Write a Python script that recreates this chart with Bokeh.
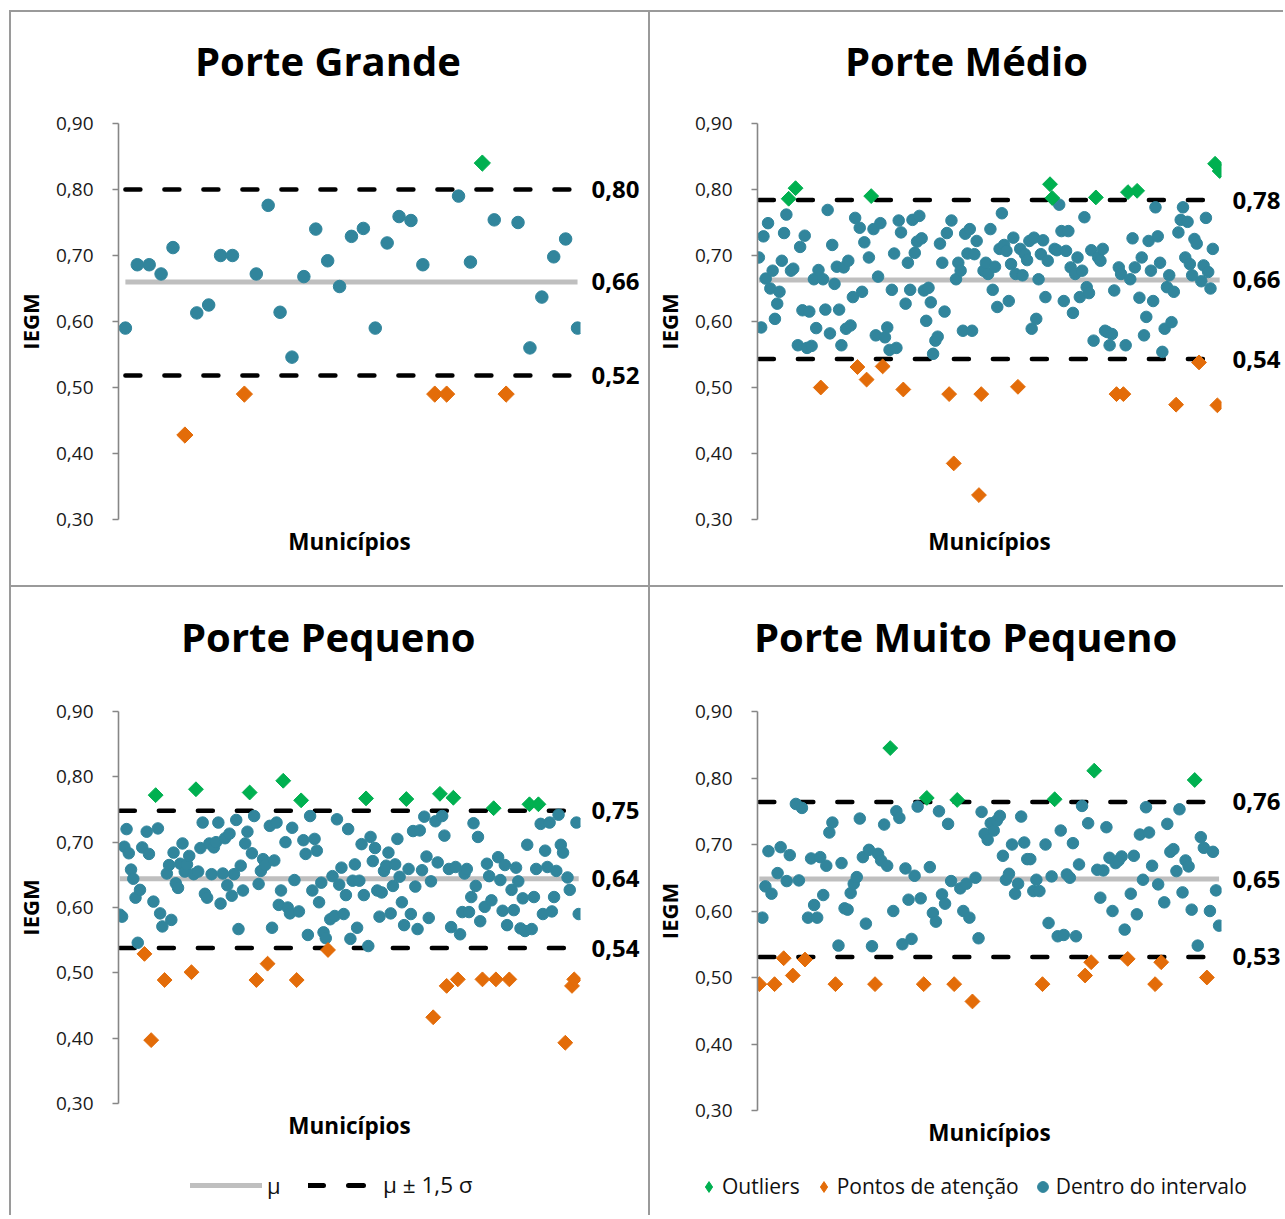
import math
from bokeh.plotting import figure
from bokeh.models import (Range1d, FixedTicker, LinearAxis, CustomJSTickFormatter,
                          Legend, LegendItem, ColumnDataSource, Div)
from bokeh.layouts import column, row
from bokeh.embed import file_html
from bokeh.resources import INLINE

FONT = "Open Sans"
TEAL = "#31859C"
ORANGE = "#E36C09"
GREEN = "#00B050"
MEAN_C = "#BFBFBF"
AXIS_C = "#868686"
BORDER_C = "#9a9a9a"
NAN = float("nan")

# ---------------- data ----------------
y_ticks = [0.3, 0.4, 0.5, 0.6, 0.7, 0.8, 0.9]

titles = ["Porte Grande", "Porte Médio", "Porte Pequeno", "Porte Muito Pequeno"]

grande_vals = [0.59, 0.686, 0.686, 0.672, 0.712, 0.428, 0.613, 0.625, 0.70, 0.70,
               0.49, 0.672, 0.776, 0.614, 0.546, 0.668, 0.74, 0.692, 0.653, 0.729,
               0.741, 0.59, 0.719, 0.759, 0.753, 0.686, 0.49, 0.49, 0.79, 0.69,
               0.84, 0.754, 0.49, 0.75, 0.56, 0.637, 0.698, 0.725, 0.59]
grande_stats = [0.518, 0.66, 0.80]   # lower, mean, upper

medio_vals = [0.697, 0.591, 0.729, 0.665, 0.749, 0.65, 0.677, 0.604, 0.627, 0.645,
              0.692, 0.734, 0.762, 0.786, 0.677, 0.68, 0.802, 0.564, 0.713, 0.617,
              0.73, 0.56, 0.615, 0.563, 0.664, 0.59, 0.678, 0.50, 0.664, 0.618,
              0.769, 0.582, 0.716, 0.657, 0.683, 0.618, 0.564, 0.682, 0.589, 0.692,
              0.594, 0.637, 0.757, 0.531, 0.742, 0.645, 0.72, 0.512, 0.697, 0.79,
              0.74, 0.579, 0.668, 0.749, 0.532, 0.576, 0.591, 0.557, 0.648, 0.703,
              0.56, 0.753, 0.735, 0.497, 0.627, 0.689, 0.648, 0.754, 0.704, 0.721,
              0.76, 0.726, 0.647, 0.601, 0.651, 0.629, 0.551, 0.571, 0.577, 0.718,
              0.689, 0.615, 0.734, 0.49, 0.753, 0.385, 0.664, 0.689, 0.677, 0.586,
              0.733, 0.703, 0.74, 0.586, 0.702, 0.722, 0.337, 0.49, 0.677, 0.689,
              0.672, 0.74, 0.648, 0.683, 0.622, 0.71, 0.764, 0.716, 0.707, 0.631,
              0.687, 0.727, 0.672, 0.501, 0.71, 0.67, 0.702, 0.693, 0.722, 0.589,
              0.727, 0.604, 0.664, 0.702, 0.723, 0.637, 0.692, 0.808, 0.787, 0.71,
              0.708, 0.777, 0.737, 0.631, 0.707, 0.737, 0.682, 0.613, 0.672, 0.697,
              0.637, 0.677, 0.758, 0.652, 0.643, 0.708, 0.571, 0.788, 0.697, 0.692,
              0.71, 0.586, 0.584, 0.564, 0.581, 0.647, 0.49, 0.682, 0.672, 0.49,
              0.564, 0.796, 0.664, 0.726, 0.682, 0.798, 0.636, 0.697, 0.579, 0.607,
              0.722, 0.677, 0.631, 0.773, 0.729, 0.689, 0.554, 0.589, 0.652, 0.67,
              0.599, 0.645, 0.474, 0.735, 0.754, 0.773, 0.697, 0.751, 0.687, 0.67,
              0.725, 0.718, 0.538, 0.661, 0.685, 0.757, 0.675, 0.65, 0.71, 0.839,
              0.473, 0.828]
medio_stats = [0.543, 0.663, 0.784]

pequeno_vals = [0.589, 0.586, 0.693, 0.72, 0.683, 0.658, 0.644, 0.615, 0.546, 0.627,
                0.692, 0.529, 0.716, 0.682, 0.397, 0.609, 0.772, 0.721, 0.591, 0.571,
                0.489, 0.652, 0.665, 0.581, 0.684, 0.637, 0.63, 0.667, 0.698, 0.655,
                0.666, 0.679, 0.501, 0.651, 0.781, 0.655, 0.691, 0.73, 0.621, 0.615,
                0.698, 0.651, 0.692, 0.70, 0.73, 0.606, 0.652, 0.706, 0.634, 0.713,
                0.618, 0.651, 0.734, 0.567, 0.664, 0.626, 0.698, 0.716, 0.776, 0.683,
                0.74, 0.489, 0.636, 0.656, 0.674, 0.665, 0.514, 0.725, 0.569, 0.672,
                0.73, 0.604, 0.626, 0.794, 0.70, 0.60, 0.591, 0.722, 0.642, 0.489,
                0.594, 0.764, 0.703, 0.682, 0.558, 0.74, 0.626, 0.705, 0.687, 0.608,
                0.638, 0.562, 0.553, 0.535, 0.582, 0.648, 0.587, 0.735, 0.635, 0.661,
                0.59, 0.619, 0.72, 0.552, 0.641, 0.666, 0.569,
                0.641, 0.697, 0.619, 0.767, 0.541, 0.708, 0.671, 0.691, 0.626, 0.586,
                0.623, 0.656, 0.664, 0.684, 0.591, 0.633, 0.666, 0.705, 0.647, 0.608,
                0.573, 0.766, 0.659, 0.59, 0.717, 0.632, 0.567, 0.718, 0.657, 0.739,
                0.678, 0.584, 0.64, 0.432, 0.732, 0.669, 0.774, 0.74, 0.71, 0.48,
                0.659, 0.57, 0.768, 0.662, 0.49, 0.559, 0.593, 0.652, 0.659, 0.593,
                0.616, 0.729, 0.633, 0.708, 0.579, 0.49, 0.601, 0.667, 0.648, 0.611,
                0.752, 0.49, 0.677, 0.642, 0.595, 0.665, 0.573, 0.49, 0.627, 0.596,
                0.661, 0.64, 0.568, 0.614, 0.564, 0.696, 0.758, 0.567, 0.616, 0.659,
                0.758, 0.728, 0.59, 0.687, 0.662, 0.73, 0.594, 0.616, 0.656, 0.742,
                0.696, 0.684, 0.393, 0.646, 0.627, 0.48, 0.49, 0.73, 0.59]
pequeno_stats = [0.538, 0.644, 0.748]

mpequeno_vals = [0.49, 0.59, 0.637, 0.69, 0.626, 0.49, 0.657, 0.696, 0.529, 0.645,
                 0.684, 0.503, 0.761, 0.646, 0.755, 0.527, 0.59, 0.679, 0.609, 0.59,
                 0.681, 0.624, 0.668, 0.718, 0.733, 0.49, 0.548, 0.672, 0.604, 0.602,
                 0.627, 0.641, 0.651, 0.739, 0.681, 0.581, 0.692, 0.547, 0.49, 0.686,
                 0.676, 0.73, 0.668, 0.845, 0.60, 0.75, 0.74, 0.55, 0.664, 0.617,
                 0.558, 0.653, 0.757, 0.619, 0.49, 0.77, 0.666, 0.597, 0.584, 0.75,
                 0.625, 0.611, 0.731, 0.645, 0.49, 0.767, 0.634, 0.60, 0.641, 0.59,
                 0.464, 0.65, 0.559, 0.749, 0.716, 0.707, 0.732, 0.721, 0.736,
                 0.743, 0.683, 0.647, 0.656, 0.70, 0.626, 0.641, 0.742, 0.703, 0.678,
                 0.678, 0.63, 0.647, 0.63, 0.49, 0.70, 0.582, 0.652, 0.768, 0.562,
                 0.721, 0.564, 0.655, 0.65, 0.702, 0.562, 0.67, 0.758, 0.503, 0.732,
                 0.523, 0.811, 0.662, 0.62, 0.661, 0.726, 0.68, 0.60, 0.672, 0.676,
                 0.682, 0.572, 0.528, 0.626, 0.683, 0.595, 0.715, 0.647, 0.756, 0.718,
                 0.668, 0.49, 0.64, 0.523, 0.613, 0.731, 0.689, 0.693, 0.66, 0.753,
                 0.628, 0.676, 0.667, 0.602, 0.797, 0.548, 0.711, 0.695, 0.50, 0.60,
                 0.689, 0.631, 0.578]
mpequeno_stats = [0.531, 0.648, 0.764]

legend_labels = ["Outliers", "Pontos de atenção", "Dentro do intervalo"]
line_labels = ["μ", "μ ± 1,5 σ"]

FMT = "return tick.toFixed(2).replace('.', ',');"


def make_panel(vals, stats, w, h, bl, br, bt, bb, pad_l, pad_r, csize, dsize):
    lower, mean, upper = stats
    n = len(vals)
    xs = list(range(1, n + 1))
    p = figure(x_range=Range1d(1 - pad_l, n + pad_r), y_range=Range1d(0.3, 0.9),
               width=w, height=h,
               min_border_left=bl, min_border_right=br,
               min_border_top=bt, min_border_bottom=bb,
               toolbar_location=None, output_backend="svg")
    p.frame_align = False
    p.outline_line_color = None
    p.grid.visible = False
    p.background_fill_color = "white"
    p.border_fill_color = "white"

    # y axis (left)
    ya = p.yaxis[0]
    ya.ticker = FixedTicker(ticks=y_ticks)
    ya.formatter = CustomJSTickFormatter(code=FMT)
    ya.axis_line_color = AXIS_C
    ya.axis_line_width = 1.6
    ya.major_tick_line_color = AXIS_C
    ya.major_tick_line_width = 1.6
    ya.major_tick_out = 6
    ya.major_tick_in = 0
    ya.minor_tick_line_color = None
    ya.major_label_text_font = FONT
    ya.major_label_text_font_size = "19px"
    ya.major_label_text_color = "#1a1a1a"
    ya.major_label_standoff = 19
    ya.axis_label = "IEGM"
    ya.axis_label_text_font = FONT
    ya.axis_label_text_font_size = "22px"
    ya.axis_label_text_font_style = "bold"
    ya.axis_label_text_color = "black"
    ya.axis_label_standoff = 8

    # x axis (bottom) - label only
    xa = p.xaxis[0]
    xa.ticker = FixedTicker(ticks=[])
    xa.axis_line_color = None
    xa.major_tick_line_color = None
    xa.minor_tick_line_color = None
    xa.axis_label = "Municípios"
    xa.axis_label_text_font = FONT
    xa.axis_label_text_font_size = "22.5px"
    xa.axis_label_text_font_style = "bold"
    xa.axis_label_text_color = "black"
    xa.axis_label_standoff = 6

    # right axis: values of the reference lines
    ra = LinearAxis(ticker=FixedTicker(ticks=[lower, mean, upper]),
                    formatter=CustomJSTickFormatter(code=FMT))
    ra.axis_line_color = None
    ra.major_tick_line_color = None
    ra.minor_tick_line_color = None
    ra.major_label_text_font = FONT
    ra.major_label_text_font_size = "24px"
    ra.major_label_text_font_style = "bold"
    ra.major_label_text_color = "black"
    ra.major_label_standoff = 5
    p.add_layout(ra, "right")

    # reference lines
    p.line([1, n], [mean, mean], line_color=MEAN_C, line_width=5)
    for lv in (upper, lower):
        p.line([1, n], [lv, lv], line_color="black", line_width=4.5,
               line_dash="15 24", line_cap="round")

    groups = {"o": ([], []), "a": ([], []), "d": ([], [])}
    for x, v in zip(xs, vals):
        k = "o" if v > upper else ("a" if v < lower else "d")
        groups[k][0].append(x)
        groups[k][1].append(v)

    p.scatter(x="x", y="y", source=ColumnDataSource(dict(x=groups["d"][0], y=groups["d"][1])),
              marker="circle", size=csize, fill_color=TEAL, line_color=TEAL)
    p.scatter(x="x", y="y", source=ColumnDataSource(dict(x=groups["a"][0], y=groups["a"][1])),
              marker="square", angle=math.pi / 4, size=dsize,
              fill_color=ORANGE, line_color=ORANGE)
    p.scatter(x="x", y="y", source=ColumnDataSource(dict(x=groups["o"][0], y=groups["o"][1])),
              marker="square", angle=math.pi / 4, size=dsize,
              fill_color=GREEN, line_color=GREEN)
    return p


def title_div(text, w, h, pad_left, pad_top):
    html = ('<div style="padding-left:%dpx; padding-top:%dpx; white-space:nowrap; '
            'font-family:\'Open Sans\'; font-size:40px; font-weight:bold; '
            'line-height:40px; color:#000;">%s</div>') % (pad_left, pad_top, text)
    return Div(text=html, width=w, height=h, margin=0)


def legend_panel(w, h):
    lf = figure(width=w, height=h, x_range=Range1d(0, 1), y_range=Range1d(0, 1),
                x_axis_type=None, y_axis_type=None, min_border=0,
                toolbar_location=None, output_backend="svg")
    lf.frame_align = False
    lf.outline_line_color = None
    lf.background_fill_color = "white"
    lf.border_fill_color = "white"
    return lf


p1 = make_panel(grande_vals, grande_stats, 637, 483, 102, 68, 21, 66, 0.58, 0.25, 12.5, 11.5)
p2 = make_panel(medio_vals, medio_stats, 633, 483, 99, 59, 21, 66, 0.6, 0.8, 11.5, 10.5)
p3 = make_panel(pequeno_vals, pequeno_stats, 637, 468, 107, 68, 24, 52, 0.6, 0.8, 11.5, 10.5)
p4 = make_panel(mpequeno_vals, mpequeno_stats, 633, 468, 102, 59, 24, 45, 0.6, 0.8, 11.5, 10.5)

t1 = title_div(titles[0], 637, 90, 184, 29)
t2 = title_div(titles[1], 633, 90, 195, 29)
t3 = title_div(titles[2], 637, 100, 170, 30)
t4 = title_div(titles[3], 633, 100, 104, 30)

# legend under "Porte Pequeno": mean line and mean +/- 1.5 sigma
lf3 = legend_panel(637, 60)
g_mean = lf3.line([NAN, NAN], [NAN, NAN], line_color=MEAN_C, line_width=5, line_cap="round")
g_dash = lf3.line([NAN, NAN], [NAN, NAN], line_color="black", line_width=5,
                  line_dash="15 25", line_cap="round")
common = dict(orientation="horizontal", padding=8, label_text_font=FONT,
              label_text_color="#111111", border_line_color=None, background_fill_alpha=0)
legA = Legend(items=[LegendItem(label=line_labels[0], renderers=[g_mean])],
              location=(179, 15), glyph_width=72, glyph_height=20, label_standoff=5,
              label_text_font_size="22px", **common)
legB = Legend(items=[LegendItem(label=line_labels[1], renderers=[g_dash])],
              location=(297, 15), glyph_width=58, glyph_height=20, label_standoff=17,
              label_text_font_size="22.5px", **common)
lf3.add_layout(legA)
lf3.add_layout(legB)

# legend under "Porte Muito Pequeno": point classes
lf4 = legend_panel(633, 60)
g_o = lf4.scatter([NAN], [NAN], marker="diamond", fill_color=GREEN, line_color=GREEN)
g_a = lf4.scatter([NAN], [NAN], marker="diamond", fill_color=ORANGE, line_color=ORANGE)
g_d = lf4.scatter([NAN], [NAN], marker="circle", fill_color=TEAL, line_color=TEAL)
leg4 = Legend(items=[LegendItem(label=legend_labels[0], renderers=[g_o]),
                     LegendItem(label=legend_labels[1], renderers=[g_a]),
                     LegendItem(label=legend_labels[2], renderers=[g_d])],
              location=(45, 15), glyph_width=27, glyph_height=27, label_standoff=0,
              spacing=10, label_text_font_size="21px", **common)
lf4.add_layout(leg4)


def vline(h):
    return Div(text="", width=2, height=h, margin=0,
               styles={"background-color": BORDER_C})


def hline(w):
    return Div(text="", width=w, height=2, margin=0,
               styles={"background-color": BORDER_C})


def spacer(w, h):
    return Div(text="", width=w, height=h, margin=0)


grid = column(
    hline(1274),
    row(vline(573), column(t1, p1, spacing=0), vline(573), column(t2, p2, spacing=0),
        spacing=0),
    hline(1274),
    row(vline(628), column(t3, p3, lf3, spacing=0), vline(628),
        column(t4, p4, lf4, spacing=0), spacing=0),
    spacing=0,
)
layout = column(spacer(1283, 10), row(spacer(9, 1205), grid, spacing=0), spacing=0)

open("out.html", "w").write(file_html(layout, INLINE))
